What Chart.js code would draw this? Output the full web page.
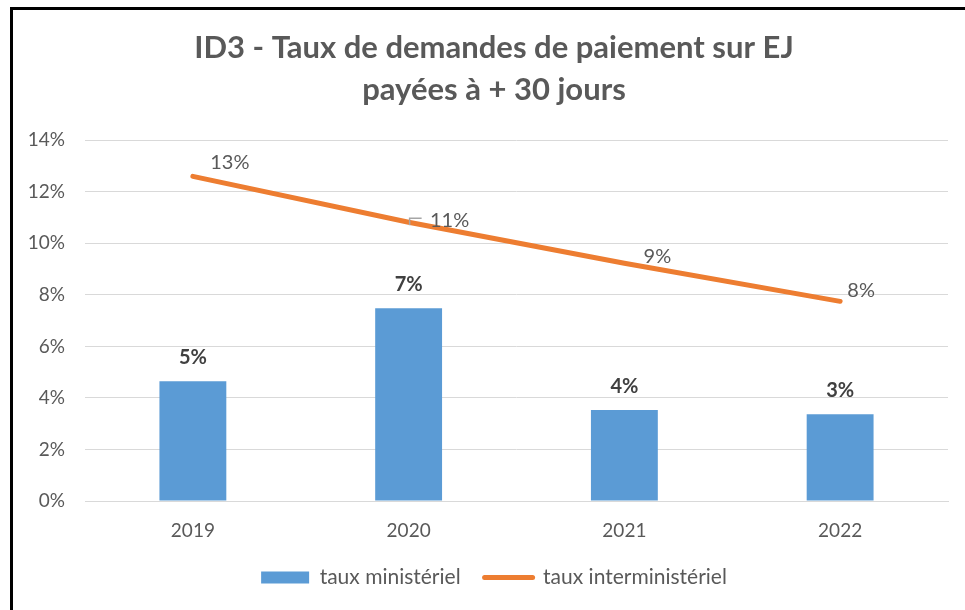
<!DOCTYPE html>
<html lang="fr">
<head>
<meta charset="utf-8">
<title>ID3 - Taux de demandes de paiement sur EJ</title>
<script src="https://cdn.jsdelivr.net/npm/chart.js@4"></script>
<style>
  html, body { margin: 0; padding: 0; background: #fff; }
  #wrap { position: relative; width: 965px; height: 610px; }
  #frame { position: absolute; left: 10px; top: 7px; right: 0; bottom: 0; border-left: 3px solid #000; border-top: 3px solid #000; pointer-events: none; }
</style>
</head>
<body>
<div id="wrap">
  <canvas id="chart" width="965" height="610"></canvas>
  <div id="frame"></div>
</div>
<script>
// Data (values in %)
const categories = ['2019', '2020', '2021', '2022'];
const tauxMinisteriel = [4.65, 7.48, 3.53, 3.37];
const tauxInterministeriel = [12.6, 10.82, 9.23, 7.75];
const yMax = 14;
const yStep = 2;

const barColor = '#5B9BD5';
const lineColor = '#ED7D31';
const textColor = '#595959';
const fontFamily = 'Lato, "Open Sans", sans-serif';

// offsets of the line labels relative to their point
const lineLabelOffsets = [[37, -14], [41, -2], [33, -7], [21, -11]];

// Draw the value labels (no datalabels plugin offline)
const valueLabels = {
    id: 'valueLabels',
    afterDatasetsDraw(chart) {
        const ctx = chart.ctx;
        ctx.save();
        ctx.textAlign = 'center';
        ctx.textBaseline = 'middle';

        ctx.font = 'bold 20px ' + fontFamily;
        ctx.fillStyle = '#404040';
        chart.getDatasetMeta(0).data.forEach((bar, i) => {
            ctx.fillText(Math.round(tauxMinisteriel[i]) + '%', bar.x, bar.y - 24);
        });

        ctx.font = '20px ' + fontFamily;
        ctx.fillStyle = textColor;
        chart.getDatasetMeta(1).data.forEach((pt, i) => {
            const [dx, dy] = lineLabelOffsets[i];
            ctx.fillText(Math.round(tauxInterministeriel[i]) + '%', pt.x + dx, pt.y + dy);
        });

        // small leader line next to the 2020 label
        const p = chart.getDatasetMeta(1).data[1];
        ctx.strokeStyle = '#A6A6A6';
        ctx.lineWidth = 1.5;
        ctx.beginPath();
        ctx.moveTo(p.x + 1, p.y + 3);
        ctx.lineTo(p.x + 1, p.y - 4);
        ctx.lineTo(p.x + 13, p.y - 4);
        ctx.stroke();
        ctx.restore();
    }
};

const ctx = document.getElementById('chart').getContext('2d');
const chart = new Chart(ctx, {
    type: 'bar',
    data: {
        labels: categories,
        datasets: [
            {
                type: 'bar',
                label: 'taux ministériel',
                data: tauxMinisteriel,
                backgroundColor: barColor,
                categoryPercentage: 1,
                barPercentage: 0.31,
                order: 1
            },
            {
                type: 'line',
                label: 'taux interministériel',
                data: tauxInterministeriel,
                borderColor: lineColor,
                borderWidth: 5,
                borderCapStyle: 'round',
                pointRadius: 0,
                tension: 0,
                order: 0
            }
        ]
    },
    options: {
        responsive: false,
        animation: false,
        layout: { padding: { left: 24, right: 1, top: 0, bottom: 12 } },
        plugins: {
            title: {
                display: true,
                text: ['ID3 - Taux de demandes de paiement sur EJ', 'payées à + 30 jours'],
                color: textColor,
                font: { family: fontFamily, size: 31, weight: 'bold', lineHeight: 1.36 },
                padding: { top: 27, bottom: 29 }
            },
            legend: {
                position: 'bottom',
                labels: {
                    color: textColor,
                    font: { family: fontFamily, size: 21 },
                    usePointStyle: true,
                    pointStyleWidth: 48,
                    boxHeight: 12,
                    padding: 24,
                    generateLabels: () => [
                        { text: 'taux ministériel', fillStyle: barColor, strokeStyle: barColor, lineWidth: 0, pointStyle: 'rect', datasetIndex: 0, fontColor: textColor },
                        { text: 'taux interministériel', fillStyle: lineColor, strokeStyle: lineColor, lineWidth: 5, lineCap: 'round', pointStyle: 'line', datasetIndex: 1, fontColor: textColor }
                    ]
                }
            },
            tooltip: { enabled: false }
        },
        scales: {
            x: {
                grid: { display: false },
                border: { display: true, color: '#D9D9D9', width: 1 },
                ticks: { color: textColor, font: { family: fontFamily, size: 19 }, padding: 10 },
                afterFit: (scale) => { scale.height = 42; }
            },
            y: {
                min: 0,
                max: yMax,
                ticks: {
                    stepSize: yStep,
                    color: textColor,
                    font: { family: fontFamily, size: 19 },
                    padding: 20,
                    callback: (v) => v + '%'
                },
                grid: { color: '#D9D9D9', drawTicks: false },
                border: { display: false },
                afterFit: (scale) => { scale.width = 61; }
            },
            // empty spacer on the right so the plot ends where the original does
            yRight: {
                position: 'right',
                grid: { display: false },
                border: { display: false },
                ticks: { display: false },
                afterFit: (scale) => { scale.width = 16; }
            }
        }
    },
    plugins: [valueLabels]
});
</script>
</body>
</html>
